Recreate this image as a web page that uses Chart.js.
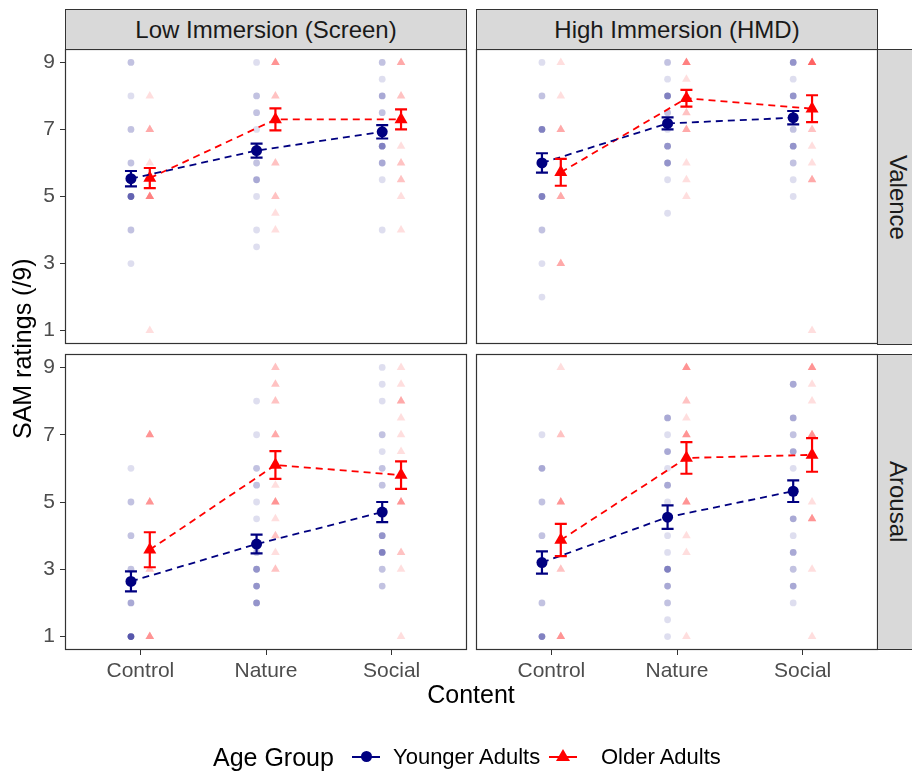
<!DOCTYPE html>
<html lang="en">
  <head>
    <meta charset="UTF-8" />
    <title>SAM ratings</title>
    <script src="https://cdn.jsdelivr.net/npm/chart.js@4"></script>
    <style>
      body {
        margin: 0;
        width: 912px;
        height: 771px;
        background: #fff;
        position: relative;
        overflow: hidden;
        font-family: "Liberation Sans", Arial, sans-serif;
      }
      canvas.panel { position: absolute; left: 0; top: 0; }
      .strip {
        position: absolute;
        background: #d9d9d9;
        border: 1px solid #333;
        box-sizing: border-box;
        color: #1a1a1a;
        font-size: 24px;
        display: flex;
        align-items: center;
        justify-content: center;
      }
      .strip.side { writing-mode: vertical-rl; }
      .lbl { position: absolute; white-space: nowrap; color: #000; }
      .key-line { position: absolute; height: 2px; }
      .key-dot { position: absolute; width: 11px; height: 11px; border-radius: 50%; background: #000080; }
      .key-tri {
        position: absolute; width: 0; height: 0;
        border-left: 7px solid transparent; border-right: 7px solid transparent;
        border-bottom: 12px solid #ff0000;
      }
    </style>
  </head>
  <body>
    <canvas class="panel" id="valScreen" width="912" height="771"></canvas>
    <canvas class="panel" id="valHmd" width="912" height="771"></canvas>
    <canvas class="panel" id="aroScreen" width="912" height="771"></canvas>
    <canvas class="panel" id="aroHmd" width="912" height="771"></canvas>

    <!-- strips -->
    <div class="strip" style="left:65px;top:9px;width:402px;height:41px">Low Immersion (Screen)</div>
    <div class="strip" style="left:476px;top:9px;width:402px;height:41px">High Immersion (HMD)</div>
    <div class="strip side" style="left:877px;top:49px;width:41px;height:296px">Valence</div>
    <div class="strip side" style="left:877px;top:354px;width:41px;height:296px">Arousal</div>

    <!-- axis titles -->
    <div class="lbl" style="left:65px;width:812px;top:679px;height:30px;line-height:30px;text-align:center;font-size:25px">Content</div>
    <div class="lbl" style="left:8px;top:49px;width:30px;height:600px;font-size:25px;display:flex;align-items:center;justify-content:center;writing-mode:vertical-rl;transform:rotate(180deg)">SAM ratings (/9)</div>

    <!-- legend -->
    <div class="lbl" style="left:213px;top:742px;height:30px;line-height:30px;font-size:25px">Age Group</div>
    <div class="key-line" style="left:352px;top:756px;width:28px;background:#000080"></div>
    <div class="key-dot" style="left:361px;top:751px"></div>
    <div class="lbl" style="left:393px;top:742px;height:30px;line-height:30px;font-size:22px">Younger Adults</div>
    <div class="key-line" style="left:549px;top:756px;width:28px;background:#ff0000"></div>
    <div class="key-tri" style="left:556px;top:749px"></div>
    <div class="lbl" style="left:601px;top:742px;height:30px;line-height:30px;font-size:22px">Older Adults</div>

    <script>
      // categories and axis ticks
      var contents = ["Control", "Nature", "Social"];
      var yTicks = [1, 3, 5, 7, 9];
      // possible rating values (raw points sit on these)
      var levels = [1, 1.5, 2, 2.5, 3, 3.5, 4, 4.5, 5, 5.5, 6, 6.5, 7, 7.5, 8, 8.5, 9];

      // number of participants at each level, one row per content (Control, Nature, Social)
      var valScreenYoung = [
        [0, 0, 0, 0, 1, 0, 2, 0, 7, 0, 2, 0, 2, 0, 1, 0, 2],
        [0, 0, 0, 0, 0, 1, 1, 0, 1, 3, 2, 0, 1, 2, 2, 0, 1],
        [0, 0, 0, 0, 0, 0, 1, 0, 0, 1, 3, 5, 0, 2, 3, 1, 2],
      ];
      var valScreenOld = [
        [1, 0, 0, 0, 0, 0, 0, 0, 5, 0, 1, 0, 3, 0, 1, 0, 0],
        [0, 0, 0, 0, 0, 0, 1, 1, 2, 0, 2, 0, 0, 0, 2, 0, 4],
        [0, 0, 0, 0, 0, 0, 1, 0, 1, 2, 2, 1, 0, 0, 2, 0, 3],
      ];
      var valHmdYoung = [
        [0, 0, 1, 0, 1, 0, 2, 0, 5, 0, 0, 0, 5, 0, 2, 0, 1],
        [0, 0, 0, 0, 0, 0, 0, 1, 0, 1, 4, 4, 1, 2, 5, 1, 2],
        [0, 0, 0, 0, 0, 0, 0, 0, 1, 1, 2, 4, 2, 0, 4, 1, 4],
      ];
      var valHmdOld = [
        [0, 0, 0, 0, 3, 0, 0, 0, 3, 0, 0, 0, 3, 0, 1, 0, 1],
        [0, 0, 0, 0, 0, 0, 0, 0, 1, 1, 1, 0, 3, 2, 0, 1, 5],
        [1, 0, 0, 0, 0, 0, 0, 0, 0, 3, 1, 1, 2, 0, 0, 0, 7],
      ];
      var aroScreenYoung = [
        [8, 0, 3, 0, 2, 0, 2, 0, 2, 0, 1, 0, 0, 0, 0, 0, 0],
        [0, 0, 4, 4, 4, 2, 0, 1, 1, 2, 2, 0, 1, 0, 1, 0, 0],
        [0, 0, 0, 2, 2, 5, 4, 0, 0, 2, 2, 1, 2, 0, 1, 1, 1],
      ];
      var aroScreenOld = [
        [4, 0, 0, 0, 2, 0, 0, 0, 4, 0, 0, 0, 4, 0, 0, 0, 0],
        [0, 0, 0, 0, 2, 1, 2, 1, 4, 1, 0, 0, 3, 0, 2, 2, 2],
        [1, 0, 0, 0, 1, 2, 0, 0, 4, 0, 0, 1, 1, 1, 3, 1, 1],
      ];
      var aroHmdYoung = [
        [5, 0, 2, 0, 0, 0, 2, 0, 2, 0, 3, 0, 1, 0, 0, 0, 0],
        [1, 1, 2, 3, 5, 1, 1, 0, 1, 3, 1, 3, 1, 3, 0, 0, 0],
        [0, 0, 1, 3, 2, 3, 1, 3, 0, 0, 1, 3, 2, 3, 0, 3, 0],
      ];
      var aroHmdOld = [
        [4, 0, 0, 0, 2, 0, 0, 0, 4, 0, 0, 0, 2, 0, 0, 0, 1],
        [1, 0, 0, 0, 0, 1, 1, 0, 4, 0, 0, 0, 4, 1, 2, 0, 4],
        [1, 0, 0, 0, 1, 0, 0, 4, 1, 0, 0, 0, 4, 0, 1, 1, 4],
      ];

      // group means and standard errors (Control, Nature, Social)
      var valScreenYoungMean = [5.53, 6.37, 6.93];
      var valScreenYoungSE = [0.23, 0.21, 0.2];
      var valScreenOldMean = [5.55, 7.3, 7.3];
      var valScreenOldSE = [0.3, 0.33, 0.3];
      var valHmdYoungMean = [6.0, 7.18, 7.35];
      var valHmdYoungSE = [0.29, 0.18, 0.2];
      var valHmdOldMean = [5.72, 7.93, 7.62];
      var valHmdOldSE = [0.4, 0.25, 0.4];
      var aroScreenYoungMean = [2.64, 3.75, 4.7];
      var aroScreenYoungSE = [0.3, 0.28, 0.3];
      var aroScreenOldMean = [3.58, 6.1, 5.8];
      var aroScreenOldSE = [0.52, 0.41, 0.41];
      var aroHmdYoungMean = [3.2, 4.55, 5.32];
      var aroHmdYoungSE = [0.33, 0.35, 0.32];
      var aroHmdOldMean = [3.87, 6.31, 6.4];
      var aroHmdOldSE = [0.48, 0.47, 0.5];

      var navy = "#000080";
      var red = "#ff0000";
      var dodge = 0.075;

      // turn counts into one point per participant
      function rawPoints(counts, shift) {
        var pts = [];
        counts.forEach(function (row, c) {
          row.forEach(function (n, k) {
            for (var i = 0; i < n; i++) pts.push({ x: c + 1 + shift, y: levels[k] });
          });
        });
        return pts;
      }

      function meanPoints(means, shift) {
        return means.map(function (m, i) {
          return { x: i + 1 + shift, y: m };
        });
      }

      // draws mean +/- se using the chart scales
      var errorBars = {
        id: "errorBars",
        afterDatasetsDraw: function (chart) {
          var ctx = chart.ctx;
          var xs = chart.scales.x;
          var ys = chart.scales.y;
          chart.data.datasets.forEach(function (ds) {
            if (!ds.se) return;
            ctx.save();
            ctx.strokeStyle = ds.borderColor;
            ctx.lineWidth = 2.2;
            ds.data.forEach(function (p, i) {
              var x = xs.getPixelForValue(p.x);
              var y1 = ys.getPixelForValue(p.y - ds.se[i]);
              var y2 = ys.getPixelForValue(p.y + ds.se[i]);
              ctx.beginPath();
              ctx.moveTo(x, y1);
              ctx.lineTo(x, y2);
              ctx.moveTo(x - 6, y1);
              ctx.lineTo(x + 6, y1);
              ctx.moveTo(x - 6, y2);
              ctx.lineTo(x + 6, y2);
              ctx.stroke();
            });
            ctx.restore();
          });
        },
      };

      // grey border round each panel
      var panelBox = {
        id: "panelBox",
        afterDraw: function (chart) {
          var a = chart.chartArea;
          var ctx = chart.ctx;
          ctx.save();
          ctx.strokeStyle = "#333333";
          ctx.lineWidth = 1.2;
          ctx.strokeRect(a.left + 0.5, a.top + 0.5, a.right - a.left - 1, a.bottom - a.top - 1);
          ctx.restore();
        },
      };

      function makePanel(id, pad, showY, showX, young, old, youngMean, youngSE, oldMean, oldSE) {
        var datasets = [
          {
            data: meanPoints(youngMean, -dodge),
            se: youngSE,
            showLine: true,
            borderColor: navy,
            borderWidth: 1.8,
            borderDash: [7, 5],
            pointStyle: "circle",
            pointRadius: 5.5,
            pointBackgroundColor: navy,
            pointBorderWidth: 0,
            order: 0,
          },
          {
            data: meanPoints(oldMean, dodge),
            se: oldSE,
            showLine: true,
            borderColor: red,
            borderWidth: 1.8,
            borderDash: [7, 5],
            pointStyle: "triangle",
            pointRadius: 7.5,
            pointBackgroundColor: red,
            pointBorderWidth: 0,
            order: 1,
          },
          {
            data: rawPoints(young, -dodge),
            pointStyle: "circle",
            pointRadius: 3.4,
            pointBackgroundColor: "rgba(0,0,128,0.13)",
            pointBorderWidth: 0,
            order: 3,
          },
          {
            data: rawPoints(old, dodge),
            pointStyle: "triangle",
            pointRadius: 5,
            pointBackgroundColor: "rgba(255,0,0,0.13)",
            pointBorderWidth: 0,
            order: 3,
          },
        ];

        new Chart(document.getElementById(id), {
          type: "scatter",
          data: { datasets: datasets },
          plugins: [errorBars, panelBox],
          options: {
            responsive: false,
            animation: false,
            layout: { padding: pad },
            plugins: { legend: { display: false }, tooltip: { enabled: false } },
            scales: {
              x: {
                type: "linear",
                min: 0.4,
                max: 3.6,
                display: showX,
                afterBuildTicks: function (s) {
                  s.ticks = [1, 2, 3].map(function (v) { return { value: v }; });
                },
                afterFit: function (s) { s.height = showX ? 40 : 0; },
                ticks: {
                  color: "#4d4d4d",
                  padding: 4,
                  maxRotation: 0,
                  font: { family: "'Liberation Sans', Arial", size: 21 },
                  callback: function (v) { return contents[v - 1]; },
                },
                grid: { drawOnChartArea: false, tickLength: 5, color: "#333333" },
                border: { display: false },
              },
              y: {
                min: 0.6,
                max: 9.4,
                display: showY,
                afterBuildTicks: function (s) {
                  s.ticks = yTicks.map(function (v) { return { value: v }; });
                },
                afterFit: function (s) { s.width = showY ? 65 : 0; },
                ticks: {
                  color: "#4d4d4d",
                  padding: 5,
                  font: { family: "'Liberation Sans', Arial", size: 21 },
                },
                grid: { drawOnChartArea: false, tickLength: 5, color: "#333333" },
                border: { display: false },
              },
            },
          },
        });
      }

      makePanel("valScreen", { left: 0, top: 49, right: 445, bottom: 427 }, true, false,
        valScreenYoung, valScreenOld, valScreenYoungMean, valScreenYoungSE, valScreenOldMean, valScreenOldSE);
      makePanel("valHmd", { left: 476, top: 49, right: 34, bottom: 427 }, false, false,
        valHmdYoung, valHmdOld, valHmdYoungMean, valHmdYoungSE, valHmdOldMean, valHmdOldSE);
      makePanel("aroScreen", { left: 0, top: 354, right: 445, bottom: 81 }, true, true,
        aroScreenYoung, aroScreenOld, aroScreenYoungMean, aroScreenYoungSE, aroScreenOldMean, aroScreenOldSE);
      makePanel("aroHmd", { left: 476, top: 354, right: 34, bottom: 81 }, false, true,
        aroHmdYoung, aroHmdOld, aroHmdYoungMean, aroHmdYoungSE, aroHmdOldMean, aroHmdOldSE);
    </script>
  </body>
</html>
